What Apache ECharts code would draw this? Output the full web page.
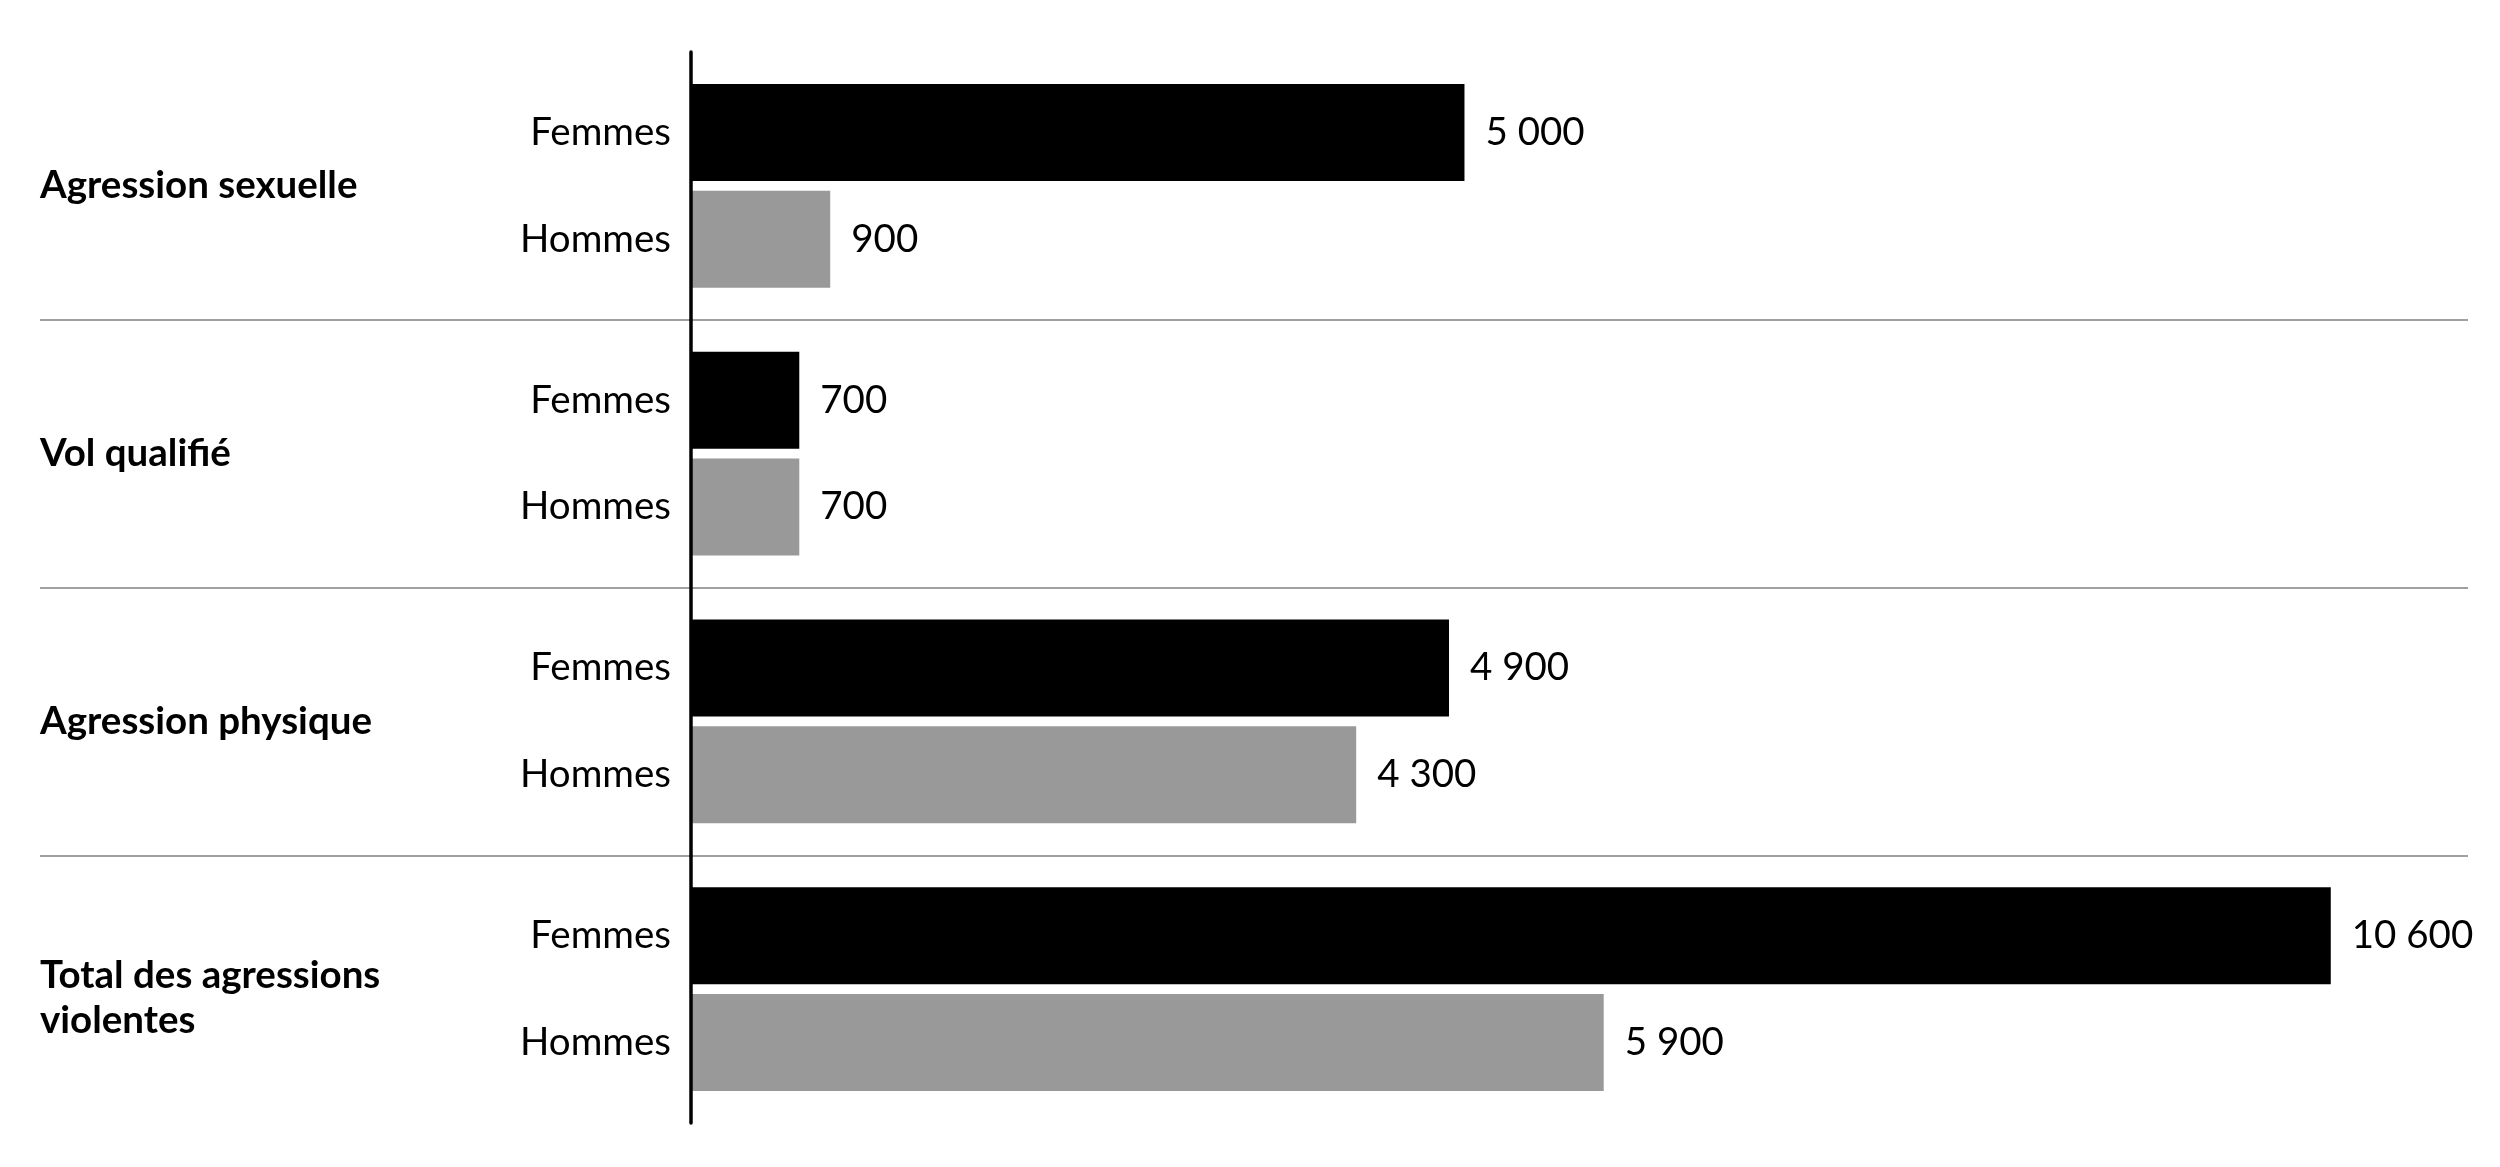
<!DOCTYPE html>
<html>
<head>
<meta charset="utf-8">
<script src="https://cdn.jsdelivr.net/npm/echarts@6/dist/echarts.min.js"></script>
<style>
  html, body { margin: 0; padding: 0; background: #fff; }
  #chart { width: 2500px; height: 1167px; }
</style>
</head>
<body>
<div id="chart"></div>
<script>
// ---- Data ----
const categories = ['Agression sexuelle', 'Vol qualifié', 'Agression physique', 'Total des agressions violentes'];
const groupLabels = ['Agression sexuelle', 'Vol qualifié', 'Agression physique', 'Total des agressions\nviolentes'];
const femmes = [5000, 700, 4900, 10600];
const hommes = [900, 700, 4300, 5900];
const seriesNames = ['Femmes', 'Hommes'];
const zeros = [0, 0, 0, 0];

const FONT = 'Lato';
const FS = 38.5;
const fmt = v => String(v).replace(/\B(?=(\d{3})+(?!\d))/g, ' ');

const chart = echarts.init(document.getElementById('chart'), null, { renderer: 'canvas' });

const nameLabel = name => ({
  show: true, position: 'left', distance: 20,
  formatter: () => name,
  color: '#000', fontFamily: FONT, fontSize: FS
});
const valueLabel = {
  show: true, position: 'right', distance: 21,
  formatter: p => fmt(p.value),
  color: '#000', fontFamily: FONT, fontSize: FS
};

chart.setOption({
  animation: false,
  backgroundColor: '#fff',
  grid: [
    { left: 691, right: 30, top: 52, bottom: 44 },
    { left: 40, right: 32, top: 52, bottom: 44 }
  ],
  xAxis: [
    { gridIndex: 0, type: 'value', min: 0, max: 11500, show: false },
    { gridIndex: 1, type: 'value', min: 0, max: 1, show: false }
  ],
  yAxis: [
    {
      gridIndex: 0, type: 'category', data: categories, inverse: true,
      axisLine: { show: true, lineStyle: { color: '#000', width: 3.5 } },
      axisTick: { show: false }, axisLabel: { show: false },
      splitLine: { show: false }, z: 5
    },
    {
      gridIndex: 1, type: 'category', data: categories, inverse: true,
      axisLine: { show: false }, axisTick: { show: false },
      axisLabel: {
        show: true, inside: true, margin: 0, align: 'left',
        formatter: (v, i) => {
          const lines = groupLabels[i].split('\n');
          if (lines.length > 1) {
            return '{s| }\n{b|' + lines.join('}\n{b|') + '}';
          }
          return '{b|' + lines[0] + '}';
        },
        rich: {
          b: { color: '#000', fontFamily: FONT, fontWeight: 'bold', fontSize: FS, lineHeight: 45 },
          s: { fontSize: 2, lineHeight: 18 }
        }
      },
      splitLine: { show: true, showMinLine: false, showMaxLine: false, lineStyle: { color: '#a0a0a0', width: 2 } }
    }
  ],
  series: [
    {
      name: seriesNames[0] + '-label', type: 'bar', xAxisIndex: 0, yAxisIndex: 0, stack: 'f',
      data: zeros, barWidth: 97, barGap: '10%',
      itemStyle: { color: 'rgba(0,0,0,0)' }, label: nameLabel(seriesNames[0]), silent: true
    },
    {
      name: seriesNames[0], type: 'bar', xAxisIndex: 0, yAxisIndex: 0, stack: 'f',
      data: femmes, barWidth: 97, barGap: '10%',
      itemStyle: { color: '#000000' }, label: valueLabel
    },
    {
      name: seriesNames[1] + '-label', type: 'bar', xAxisIndex: 0, yAxisIndex: 0, stack: 'h',
      data: zeros, barWidth: 97, barGap: '10%',
      itemStyle: { color: 'rgba(0,0,0,0)' }, label: nameLabel(seriesNames[1]), silent: true
    },
    {
      name: seriesNames[1], type: 'bar', xAxisIndex: 0, yAxisIndex: 0, stack: 'h',
      data: hommes, barWidth: 97, barGap: '10%',
      itemStyle: { color: '#999999' }, label: valueLabel
    }
  ]
});
</script>
</body>
</html>
